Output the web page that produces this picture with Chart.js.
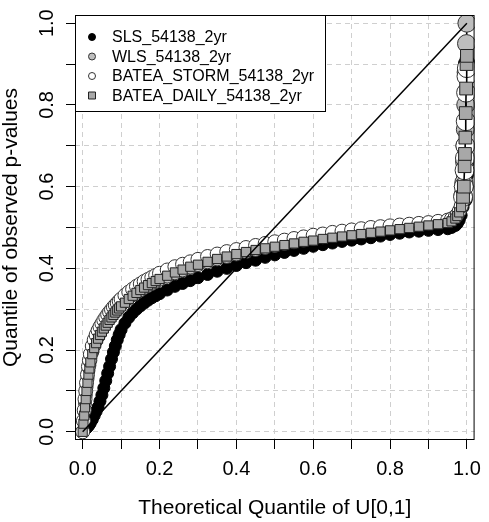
<!DOCTYPE html>
<html>
<head>
<meta charset="utf-8">
<script src="https://cdn.jsdelivr.net/npm/chart.js@4.4.1/dist/chart.umd.min.js"></script>
<style>
  html, body { margin: 0; padding: 0; background: #fff; }
  #wrap { width: 489px; height: 522px; }
</style>
</head>
<body>
<div id="wrap"><canvas id="qqChart" width="489" height="522"></canvas></div>
<script>
// ─── Data ─────────────────────────────────────────────────────────────────────
const seriesNames = ['SLS_54138_2yr', 'WLS_54138_2yr', 'BATEA_STORM_54138_2yr', 'BATEA_DAILY_54138_2yr'];

// theoretical quantiles of U[0,1] (x positions)
const quantiles = [0, 0.002, 0.004, 0.006, 0.008, 0.01, 0.0125, 0.015, 0.0175, 0.02,
  0.025, 0.03, 0.035, 0.04, 0.045, 0.05, 0.055, 0.06, 0.065, 0.07, 0.075, 0.08, 0.085, 0.09, 0.095, 0.1,
  0.11, 0.12, 0.13, 0.14, 0.15, 0.16, 0.17, 0.18, 0.19, 0.2,
  0.22, 0.24, 0.26, 0.28, 0.3,
  0.325, 0.35, 0.375, 0.4, 0.425, 0.45, 0.475, 0.5, 0.525, 0.55, 0.575, 0.6, 0.625,
  0.65, 0.675, 0.7, 0.725, 0.75, 0.775, 0.8, 0.825, 0.85, 0.875, 0.9, 0.925, 0.95,
  0.96, 0.97, 0.975, 0.98, 0.985, 0.99,
  0.992, 0.994, 0.995, 0.996, 0.997, 0.998, 0.999, 1.0];

const slsValues = [0, 0.002, 0.004, 0.006, 0.008, 0.01, 0.012, 0.015, 0.018, 0.022,
  0.03, 0.04, 0.05, 0.06, 0.075, 0.09, 0.107, 0.125, 0.143, 0.16, 0.178, 0.195, 0.21, 0.225, 0.238, 0.25,
  0.266, 0.28, 0.291, 0.3, 0.308, 0.315, 0.322, 0.328, 0.333, 0.338,
  0.347, 0.356, 0.363, 0.37, 0.377,
  0.385, 0.393, 0.4, 0.407, 0.414, 0.42, 0.427, 0.433, 0.439, 0.444, 0.449, 0.454, 0.458,
  0.462, 0.466, 0.469, 0.472, 0.475, 0.479, 0.483, 0.486, 0.489, 0.491, 0.493, 0.495, 0.497,
  0.5, 0.505, 0.51, 0.518, 0.53, 0.55,
  0.57, 0.6, 0.63, 0.66, 0.7, 0.76, 0.83, 0.9];

const wlsValues = [0, 0.025, 0.05, 0.07, 0.09, 0.11, 0.13, 0.15, 0.163, 0.175,
  0.195, 0.21, 0.222, 0.232, 0.241, 0.25, 0.258, 0.265, 0.272, 0.278, 0.284, 0.29, 0.295, 0.3, 0.305, 0.31,
  0.319, 0.327, 0.334, 0.34, 0.346, 0.352, 0.357, 0.362, 0.367, 0.372,
  0.38, 0.388, 0.395, 0.402, 0.408,
  0.415, 0.422, 0.428, 0.434, 0.44, 0.445, 0.45, 0.455, 0.46, 0.464, 0.468, 0.472, 0.476,
  0.48, 0.483, 0.487, 0.49, 0.493, 0.496, 0.499, 0.502, 0.505, 0.507, 0.51, 0.513, 0.517,
  0.52, 0.527, 0.533, 0.542, 0.555, 0.58,
  0.61, 0.66, 0.7, 0.74, 0.8, 0.88, 0.95, 1.0];

const stormValues = [0, 0.027, 0.053, 0.08, 0.1, 0.12, 0.14, 0.16, 0.175, 0.19,
  0.21, 0.225, 0.237, 0.248, 0.257, 0.265, 0.273, 0.28, 0.287, 0.293, 0.299, 0.305, 0.31, 0.315, 0.32, 0.325,
  0.334, 0.342, 0.349, 0.356, 0.362, 0.368, 0.373, 0.378, 0.383, 0.388,
  0.396, 0.404, 0.41, 0.416, 0.422,
  0.429, 0.435, 0.441, 0.446, 0.451, 0.456, 0.461, 0.465, 0.469, 0.473, 0.477, 0.481, 0.484,
  0.488, 0.491, 0.494, 0.497, 0.5, 0.502, 0.504, 0.506, 0.508, 0.51, 0.512, 0.515, 0.518,
  0.521, 0.527, 0.532, 0.54, 0.552, 0.575,
  0.6, 0.64, 0.67, 0.7, 0.76, 0.83, 0.87, 0.89];

const dailyValues = [0, 0.02, 0.04, 0.06, 0.08, 0.1, 0.12, 0.14, 0.155, 0.17,
  0.19, 0.205, 0.217, 0.228, 0.237, 0.245, 0.253, 0.26, 0.267, 0.274, 0.28, 0.286, 0.292, 0.297, 0.302, 0.307,
  0.316, 0.325, 0.333, 0.34, 0.347, 0.353, 0.359, 0.364, 0.369, 0.374,
  0.382, 0.39, 0.397, 0.404, 0.409,
  0.416, 0.423, 0.429, 0.435, 0.44, 0.445, 0.449, 0.453, 0.457, 0.461, 0.465, 0.468, 0.472,
  0.475, 0.478, 0.481, 0.484, 0.487, 0.49, 0.493, 0.496, 0.499, 0.502, 0.505, 0.508, 0.511,
  0.515, 0.522, 0.528, 0.537, 0.55, 0.575,
  0.6, 0.65, 0.68, 0.72, 0.78, 0.84, 0.9, 0.92];

const tickValues = [0, 0.1, 0.2, 0.3, 0.4, 0.5, 0.6, 0.7, 0.8, 0.9, 1.0];
const labelValues = [0, 0.2, 0.4, 0.6, 0.8, 1.0];
const labelTexts = ['0.0', '0.2', '0.4', '0.6', '0.8', '1.0'];
const axisMin = -0.02;
const axisMax = 1.02;

// ─── Styles ───────────────────────────────────────────────────────────────────
const FONT = '"Liberation Sans", Arial, Helvetica, sans-serif';
const markerStyles = [
  { fill: '#000000', stroke: '#000000', shape: 'circle', radius: 6 },
  { fill: '#bebebe', stroke: '#333333', shape: 'circle', radius: 6.5 },
  { fill: '#ffffff', stroke: '#333333', shape: 'circle', radius: 7 },
  { fill: '#a8a8a8', stroke: '#222222', shape: 'rect', radius: 6.5 },
];
const seriesValues = [slsValues, wlsValues, stormValues, dailyValues];

const toPoints = (ys) => quantiles.map((q, i) => ({ x: q, y: ys[i] }));

// markers in the upper tail are drawn larger, as in the original
const radiusFor = (base) => (ctx) => (ctx.raw && ctx.raw.y > 0.56 ? base + 2.5 : base);

const datasets = seriesNames.map((name, i) => ({
  label: name,
  data: toPoints(seriesValues[i]),
  borderColor: '#000000',
  borderWidth: 1.6,
  pointStyle: markerStyles[i].shape,
  pointRadius: radiusFor(markerStyles[i].radius),
  pointBackgroundColor: markerStyles[i].fill,
  pointBorderColor: markerStyles[i].stroke,
  pointBorderWidth: 1,
  showLine: true,
  fill: false,
  tension: 0,
  order: 4 - i,
}));

// 1:1 reference line
datasets.push({
  label: '1:1',
  data: [{ x: 0, y: 0 }, { x: 1, y: 1 }],
  borderColor: '#000000',
  borderWidth: 1.5,
  pointRadius: 0,
  showLine: true,
  fill: false,
  order: 0,
});

// ─── Plugins ──────────────────────────────────────────────────────────────────
const fixedTicks = (scale) => { scale.ticks = tickValues.map((v) => ({ value: v })); };

/** R-style box, rotated y labels and legend box. */
const rDecor = {
  id: 'rDecor',
  afterDraw(chart) {
    const { ctx, chartArea: a, scales } = chart;
    ctx.save();
    // box around the plot region
    ctx.strokeStyle = '#000';
    ctx.lineWidth = 1;
    ctx.strokeRect(a.left + 0.5, a.top + 0.5, a.right - a.left - 1, a.bottom - a.top - 1);

    // y tick labels, rotated as in R
    ctx.fillStyle = '#000';
    ctx.font = `20px ${FONT}`;
    ctx.textAlign = 'center';
    ctx.textBaseline = 'middle';
    labelValues.forEach((v, i) => {
      const y = scales.y.getPixelForValue(v);
      ctx.save();
      ctx.translate(47, y);
      ctx.rotate(-Math.PI / 2);
      ctx.fillText(labelTexts[i], 0, 0);
      ctx.restore();
    });

    // legend
    const lx = a.left, ly = a.top, lw = 251, lh = 97;
    ctx.fillStyle = '#fff';
    ctx.fillRect(lx, ly, lw, lh);
    ctx.strokeStyle = '#000';
    ctx.strokeRect(lx + 0.5, ly + 0.5, lw - 1, lh - 1);
    ctx.font = `16px ${FONT}`;
    ctx.textAlign = 'left';
    seriesNames.forEach((name, i) => {
      const cy = ly + 22 + i * 19.5;
      const cx = lx + 17;
      const m = markerStyles[i];
      ctx.fillStyle = m.fill;
      ctx.strokeStyle = m.stroke;
      ctx.lineWidth = 1;
      ctx.beginPath();
      if (m.shape === 'rect') ctx.rect(cx - 3.5, cy - 3.5, 7, 7);
      else ctx.arc(cx, cy, 3.5, 0, Math.PI * 2);
      ctx.fill();
      ctx.stroke();
      ctx.fillStyle = '#000';
      ctx.fillText(name, lx + 37, cy + 1);
    });
    ctx.restore();
  },
};

// ─── Chart ────────────────────────────────────────────────────────────────────
const gridOpts = {
  color: '#cfcfcf',
  lineWidth: 1,
  drawTicks: true,
  tickLength: 9,
  tickColor: '#000',
  tickWidth: 1,
};

new Chart(document.getElementById('qqChart').getContext('2d'), {
  type: 'scatter',
  data: { datasets },
  options: {
    responsive: false,
    animation: false,
    events: [],
    layout: { padding: { top: 15, right: 8, left: 0, bottom: 0 } },
    plugins: { legend: { display: false }, tooltip: { enabled: false } },
    scales: {
      x: {
        type: 'linear',
        min: axisMin,
        max: axisMax,
        afterBuildTicks: fixedTicks,
        afterFit: (s) => { s.height = 82; },
        grid: gridOpts,
        border: { display: false, dash: [5, 4] },
        ticks: {
          color: '#000',
          font: { family: FONT, size: 20 },
          padding: 8,
          maxRotation: 0,
          autoSkip: false,
          callback: (v) => {
            const k = labelValues.findIndex((l) => Math.abs(l - v) < 1e-9);
            return k >= 0 ? labelTexts[k] : '';
          },
        },
        title: {
          display: true,
          text: 'Theoretical Quantile of U[0,1]',
          color: '#000',
          font: { family: FONT, size: 21, lineHeight: 1.0 },
          padding: { top: 0, bottom: 3 },
        },
      },
      y: {
        type: 'linear',
        min: axisMin,
        max: axisMax,
        afterBuildTicks: fixedTicks,
        afterFit: (s) => { s.width = 75; },
        grid: gridOpts,
        border: { display: false, dash: [5, 4] },
        ticks: { display: false },
        title: {
          display: true,
          text: 'Quantile of observed p-values',
          color: '#000',
          font: { family: FONT, size: 21, lineHeight: 1.0 },
          padding: { top: 1, bottom: 0 },
        },
      },
    },
  },
  plugins: [rDecor],
});
</script>
</body>
</html>
